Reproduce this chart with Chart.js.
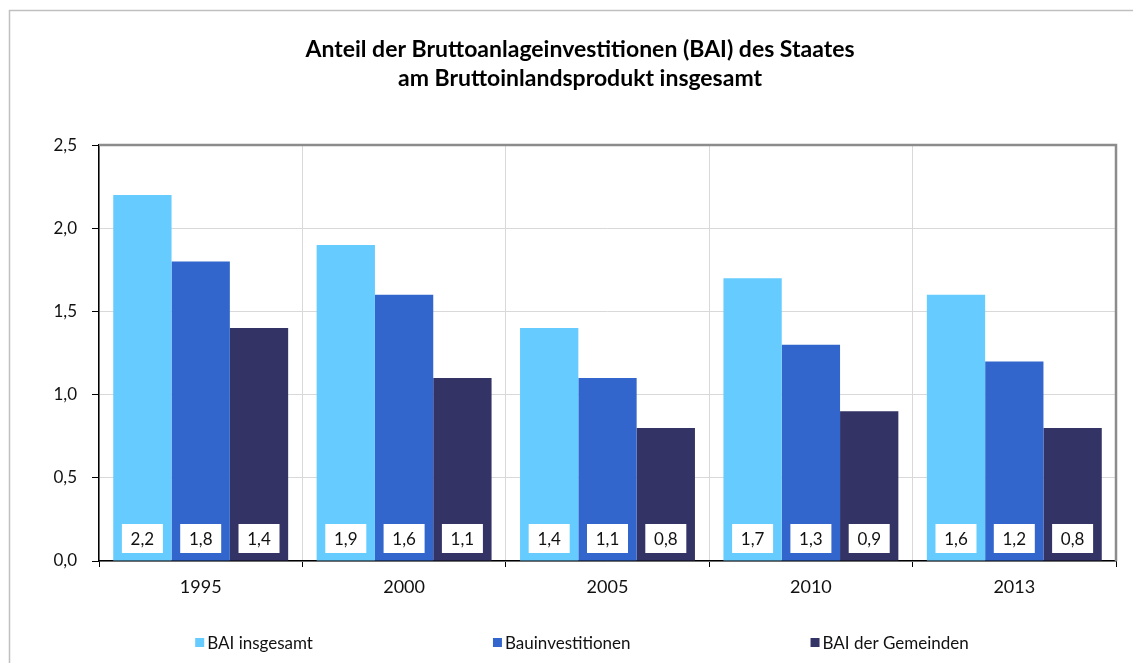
<!DOCTYPE html>
<html>
<head>
<meta charset="utf-8">
<script src="https://cdn.jsdelivr.net/npm/chart.js@4"></script>
<style>
  html, body { margin: 0; padding: 0; background: #fff; }
  #wrap { position: relative; width: 1133px; height: 663px; }
</style>
</head>
<body>
<div id="wrap"><canvas id="chart"></canvas></div>
<script>
// data
const years = ['1995', '2000', '2005', '2010', '2013'];
const baiTotal = [2.2, 1.9, 1.4, 1.7, 1.6];
const construction = [1.8, 1.6, 1.1, 1.3, 1.2];
const municipal = [1.4, 1.1, 0.8, 0.9, 0.8];
const seriesNames = ['BAI insgesamt', 'Bauinvestitionen', 'BAI der Gemeinden'];
const seriesColors = ['#66ccff', '#3366cc', '#333366'];

const FONT = 'Lato';
const fmt = v => v.toFixed(1).replace('.', ',');

// outer frame + plot border (top/right)
const framePlugin = {
    id: 'frame',
    beforeDraw(chart) {
        const ctx = chart.ctx;
        ctx.save();
        ctx.fillStyle = '#fff';
        ctx.fillRect(0, 0, chart.width, chart.height);
        ctx.strokeStyle = '#c0c0c0';
        ctx.lineWidth = 1.5;
        ctx.strokeRect(9.5, 10.5, chart.width + 20, chart.height + 20);
        ctx.restore();
    },
    afterDraw(chart) {
        const a = chart.chartArea;
        const ctx = chart.ctx;
        ctx.save();
        ctx.strokeStyle = '#8c8c8c';
        ctx.lineWidth = 2.5;
        ctx.beginPath();
        ctx.moveTo(a.left, a.top);
        ctx.lineTo(a.right, a.top);
        ctx.lineTo(a.right, a.bottom);
        ctx.stroke();
        ctx.restore();
    }
};

// white value boxes at the bottom of each bar
const valueBoxes = {
    id: 'valueBoxes',
    afterDatasetsDraw(chart) {
        const ctx = chart.ctx;
        const bottom = chart.chartArea.bottom;
        ctx.save();
        ctx.font = '17px ' + FONT;
        ctx.textAlign = 'center';
        ctx.textBaseline = 'middle';
        chart.data.datasets.forEach((ds, i) => {
            chart.getDatasetMeta(i).data.forEach((bar, j) => {
                const w = 41, h = 29;
                const x = bar.x - w / 2;
                const y = bottom - 8 - h;
                ctx.fillStyle = '#fff';
                ctx.fillRect(x, y, w, h);
                ctx.fillStyle = '#111';
                ctx.fillText(fmt(ds.data[j]), bar.x, y + h / 2 + 1);
            });
        });
        ctx.restore();
    }
};

// legend along the bottom, wide gaps like the original
const bottomLegend = {
    id: 'bottomLegend',
    afterDraw(chart) {
        const ctx = chart.ctx;
        ctx.save();
        ctx.font = '17px ' + FONT;
        ctx.textBaseline = 'middle';
        const gap = 180, box = 9, textGap = 3;
        const items = chart.data.datasets.map(ds => ({
            label: ds.label,
            color: ds.backgroundColor,
            w: box + textGap + ctx.measureText(ds.label).width
        }));
        const total = items.reduce((s, it) => s + it.w, 0) + gap * (items.length - 1);
        let x = 582 - total / 2;
        const y = 643;
        items.forEach(it => {
            ctx.fillStyle = it.color;
            ctx.fillRect(x, y - 5, box, box);
            ctx.fillStyle = '#111';
            ctx.fillText(it.label, x + box + textGap, y + 1);
            x += it.w + gap;
        });
        ctx.restore();
    }
};

new Chart(document.getElementById('chart'), {
    type: 'bar',
    data: {
        labels: years,
        datasets: [
            { label: seriesNames[0], data: baiTotal, backgroundColor: seriesColors[0] },
            { label: seriesNames[1], data: construction, backgroundColor: seriesColors[1] },
            { label: seriesNames[2], data: municipal, backgroundColor: seriesColors[2] }
        ]
    },
    options: {
        responsive: true,
        maintainAspectRatio: false,
        animation: false,
        layout: { padding: { left: 44, right: 17, top: 0, bottom: 62 } },
        datasets: {
            bar: { categoryPercentage: 0.86, barPercentage: 1.0 }
        },
        plugins: {
            legend: { display: false },
            tooltip: { enabled: false },
            title: {
                display: true,
                text: ['Anteil der Bruttoanlageinvestitionen (BAI) des Staates',
                       'am Bruttoinlandsprodukt insgesamt'],
                color: '#000',
                font: { family: FONT, size: 23, weight: 'bold', lineHeight: 1.22 },
                padding: { top: 36, bottom: 53 }
            }
        },
        scales: {
            x: {
                grid: { color: '#d9d9d9', tickColor: '#000', tickLength: 6, offset: true },
                border: { color: '#000', width: 1.5 },
                ticks: { color: '#111', font: { family: FONT, size: 18 }, padding: 9 },
                afterFit(scale) { scale.height = 40; }
            },
            y: {
                min: 0,
                max: 2.5,
                ticks: {
                    stepSize: 0.5,
                    color: '#111',
                    font: { family: FONT, size: 17 },
                    padding: 15,
                    callback: v => fmt(v)
                },
                grid: { color: '#d9d9d9', tickColor: '#000', tickLength: 7 },
                border: { color: '#000', width: 1.5 },
                afterFit(scale) { scale.width = 55; }
            }
        }
    },
    plugins: [framePlugin, valueBoxes, bottomLegend]
});
</script>
</body>
</html>
